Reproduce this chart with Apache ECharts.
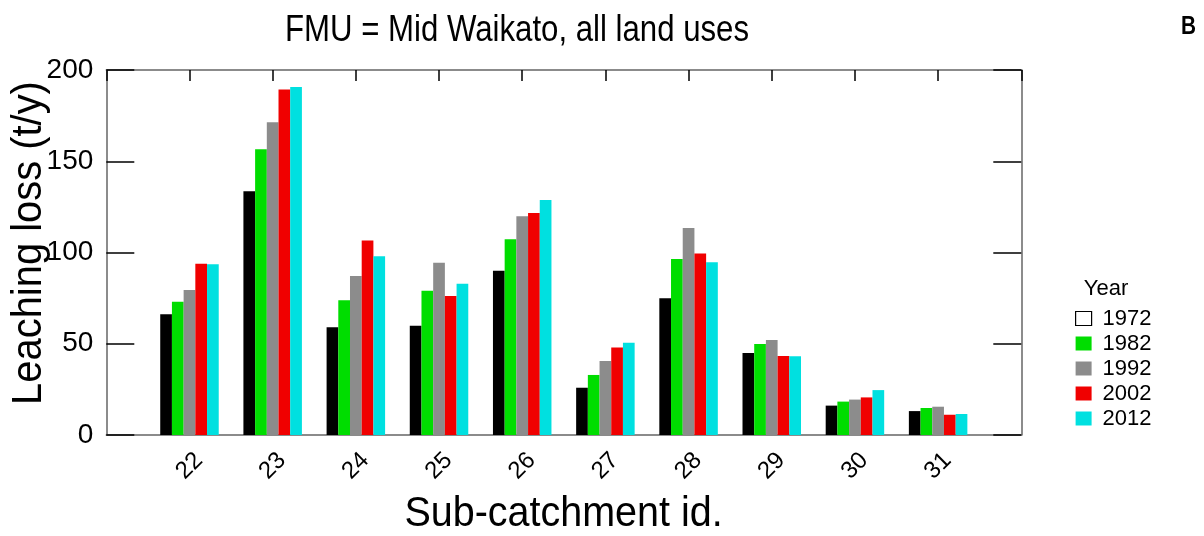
<!DOCTYPE html>
<html>
<head>
<meta charset="utf-8">
<script src="https://cdn.jsdelivr.net/npm/echarts@6/dist/echarts.min.js"></script>
<style>
html,body{margin:0;padding:0;background:#fff;}
#chart{width:1204px;height:536px;}
</style>
</head>
<body>
<div id="chart"></div>
<script>
var categories = ['22','23','24','25','26','27','28','29','30','31'];
var years = ['1972','1982','1992','2002','2012'];
var y1972 = [66.1, 133.6, 59.0, 59.9, 90.0, 25.9, 75.0, 44.9, 16.1, 13.1];
var y1982 = [73.0, 156.6, 73.9, 79.0, 107.2, 32.9, 96.4, 49.8, 18.3, 14.8];
var y1992 = [79.4, 171.4, 87.1, 94.4, 119.9, 40.5, 113.4, 52.0, 19.4, 15.5];
var y2002 = [93.8, 189.3, 106.6, 76.1, 121.7, 48.0, 99.5, 43.3, 20.6, 11.1];
var y2012 = [93.5, 190.7, 98.0, 82.9, 128.7, 50.6, 94.7, 43.2, 24.6, 11.5];
var yMin = 0, yMax = 200, yStep = 50;

var colors = ['#000000', '#00dd00', '#8c8c8c', '#f00000', '#00e0e0'];
var seriesValues = [y1972, y1982, y1992, y2002, y2012];

// pad one empty slot at each end of the category axis
var axisCats = [''].concat(categories).concat(['']);
function pad(arr){ return [null].concat(arr).concat([null]); }

var FONT = '"Liberation Sans", Arial, sans-serif';
var FRAME = {show: true, onZero: false, lineStyle: {color: '#666', width: 1.5}};

var series = years.map(function(y, i){
  return {
    name: y,
    type: 'bar',
    xAxisIndex: 0,
    yAxisIndex: 0,
    barWidth: 11.7,
    barGap: '0%',
    itemStyle: {color: colors[i]},
    data: pad(seriesValues[i])
  };
});

var legendData = years.map(function(y, i){
  if (i === 0) return {name: y, itemStyle: {color: '#ffffff', borderColor: '#000', borderWidth: 1.2}};
  return {name: y};
});

var chart = echarts.init(document.getElementById('chart'), null, {renderer: 'canvas'});
chart.setOption({
  animation: false,
  backgroundColor: '#ffffff',
  grid: {left: 106.3, right: 182.7, top: 70, bottom: 101, show: false},
  legend: {
    orient: 'vertical',
    left: 1075, top: 306, padding: 0,
    itemWidth: 16, itemHeight: 14, itemGap: 0,
    icon: 'rect',
    textStyle: {fontFamily: FONT, fontSize: 22, color: '#000', lineHeight: 25, padding: [0,0,0,6]},
    data: legendData
  },
  xAxis: [{
    type: 'category', position: 'bottom', data: axisCats, boundaryGap: false,
    axisLine: FRAME, axisTick: {show: false}, splitLine: {show: false},
    axisLabel: {interval: 0, rotate: 45, align: 'center', verticalAlign: 'middle', margin: 31, fontFamily: FONT, fontSize: 24, color: '#000'}
  }, {
    type: 'category', position: 'top', data: axisCats, boundaryGap: false,
    axisLine: FRAME, axisLabel: {show: false}, splitLine: {show: false},
    axisTick: {show: true, inside: true, length: 11, interval: 0, lineStyle: {color: '#000', width: 1.5}}
  }],
  yAxis: [{
    type: 'value', position: 'left', min: yMin, max: yMax, interval: yStep,
    axisLine: FRAME, splitLine: {show: false},
    axisTick: {show: true, inside: true, length: 28, lineStyle: {color: '#000', width: 1.5}},
    axisLabel: {fontFamily: FONT, fontSize: 28, color: '#000', margin: 13}
  }, {
    type: 'value', position: 'right', min: yMin, max: yMax, interval: yStep,
    axisLine: FRAME, splitLine: {show: false}, axisLabel: {show: false},
    axisTick: {show: true, inside: true, length: 28, lineStyle: {color: '#000', width: 1.5}}
  }],
  graphic: [
    {type: 'text', x: 517, y: 31, scaleX: 0.866, style: {text: 'FMU = Mid Waikato, all land uses', font: '36px ' + FONT, fill: '#000', textAlign: 'center', textVerticalAlign: 'middle', align: 'center', verticalAlign: 'middle'}},
    {type: 'text', x: 1188.5, y: 27, scaleX: 0.8, style: {text: 'B', font: 'bold 26px ' + FONT, fill: '#000', textAlign: 'center', textVerticalAlign: 'middle', align: 'center', verticalAlign: 'middle'}},
    {type: 'text', x: 1106, y: 289, style: {text: 'Year', font: '22px ' + FONT, fill: '#000', textAlign: 'center', textVerticalAlign: 'middle', align: 'center', verticalAlign: 'middle'}},
    {type: 'text', x: 29, y: 243, rotation: Math.PI / 2, scaleX: 0.95, style: {text: 'Leaching loss (t/y)', font: '42px ' + FONT, fill: '#000', textAlign: 'center', textVerticalAlign: 'middle', align: 'center', verticalAlign: 'middle'}},
    {type: 'text', x: 563.5, y: 514, scaleX: 0.94, style: {text: 'Sub-catchment id.', font: '42px ' + FONT, fill: '#000', textAlign: 'center', textVerticalAlign: 'middle', align: 'center', verticalAlign: 'middle'}}
  ],
  series: series
});
</script>
</body>
</html>
